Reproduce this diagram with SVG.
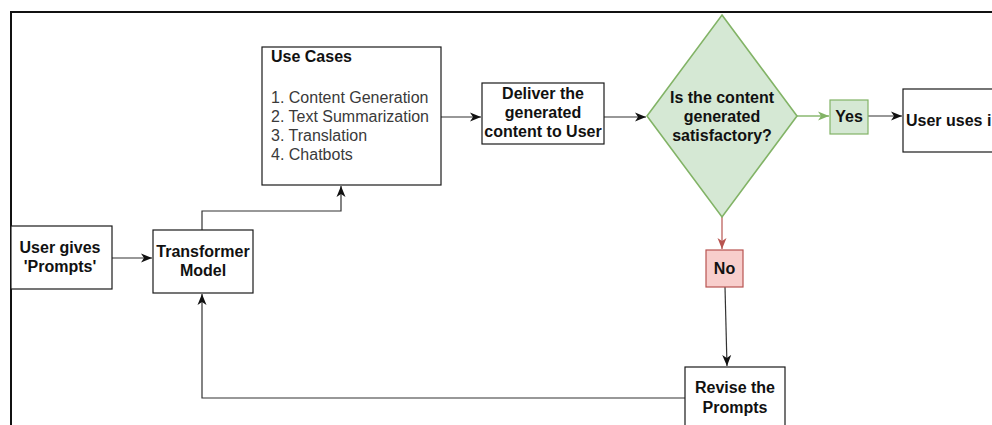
<svg xmlns="http://www.w3.org/2000/svg" width="992" height="425" viewBox="0 0 992 425">
  <defs>
    <style>
      .box { fill: #ffffff; stroke: #1a1a1a; stroke-width: 1.2; }
      .green { fill: #d5e8d4; stroke: #82b366; stroke-width: 1.6; }
      .red { fill: #f8cecc; stroke: #b85450; stroke-width: 1.2; }
      .lbl { font-family: "Liberation Sans", Arial, sans-serif; font-size: 16px; font-weight: bold; fill: #111; text-anchor: middle; }
      .list { font-family: "Liberation Sans", Arial, sans-serif; font-size: 16px; fill: #3a3a3a; }
      .edge { fill: none; stroke: #333; stroke-width: 1.2; }
      .edge-g { fill: none; stroke: #82b366; stroke-width: 1.4; }
      .edge-r { fill: none; stroke: #b85450; stroke-width: 1.2; }
    </style>
    <marker id="arr" markerUnits="userSpaceOnUse" markerWidth="12" markerHeight="12" viewBox="0 0 12 12" refX="11" refY="6" orient="auto">
      <path d="M0,1.5 L11,6 L0,10.5 L3,6 Z" fill="#111"/>
    </marker>
    <marker id="arrG" markerUnits="userSpaceOnUse" markerWidth="12" markerHeight="12" viewBox="0 0 12 12" refX="11" refY="6" orient="auto">
      <path d="M0,1.5 L11,6 L0,10.5 L3,6 Z" fill="#82b366"/>
    </marker>
    <marker id="arrR" markerUnits="userSpaceOnUse" markerWidth="12" markerHeight="12" viewBox="0 0 12 12" refX="11" refY="6" orient="auto">
      <path d="M0,1.5 L11,6 L0,10.5 L3,6 Z" fill="#b85450"/>
    </marker>
  </defs>

  <rect width="992" height="425" fill="#ffffff"/>

  <!-- outer frame (open to the right and bottom) -->
  <path d="M11,425 V12 H992" fill="none" stroke="#111" stroke-width="2"/>

  <!-- connectors -->
  <g id="connectors">
    <path class="edge" d="M112,258 H152" marker-end="url(#arr)"/>
    <path class="edge" d="M202,230 V211 H341 V186" marker-end="url(#arr)"/>
    <path class="edge" d="M441,117 H481" marker-end="url(#arr)"/>
    <path class="edge" d="M604,117 H646" marker-end="url(#arr)"/>
    <path class="edge-g" d="M797,116 H829" marker-end="url(#arrG)"/>
    <path class="edge" d="M868,116 H902" marker-end="url(#arr)"/>
    <path class="edge-r" d="M722,217 V249" marker-end="url(#arrR)"/>
    <path class="edge" d="M725,287 L727,366" marker-end="url(#arr)"/>
    <path class="edge" d="M685,398 H202 V294" marker-end="url(#arr)"/>
  </g>

  <g id="user-prompts">
    <rect class="box" x="11" y="226" width="101" height="63"/>
    <text class="lbl" x="60" y="253">User gives</text>
    <text class="lbl" x="60" y="272">'Prompts'</text>
  </g>

  <g id="transformer">
    <rect class="box" x="153" y="230" width="100" height="63"/>
    <text class="lbl" x="203" y="257">Transformer</text>
    <text class="lbl" x="203" y="276">Model</text>
  </g>

  <g id="use-cases">
    <rect class="box" x="262" y="47" width="179" height="138"/>
    <text class="lbl" x="271" y="62" style="text-anchor:start">Use Cases</text>
    <text class="list" x="271" y="103">1. Content Generation</text>
    <text class="list" x="271" y="122">2. Text Summarization</text>
    <text class="list" x="271" y="141">3. Translation</text>
    <text class="list" x="271" y="160">4. Chatbots</text>
  </g>

  <g id="deliver">
    <rect class="box" x="482" y="83" width="122" height="61"/>
    <text class="lbl" x="543" y="99">Deliver the</text>
    <text class="lbl" x="543" y="118">generated</text>
    <text class="lbl" x="543" y="137">content to User</text>
  </g>

  <g id="decision">
    <polygon class="green" points="722,15 797,116 722,217 647,116"/>
    <text class="lbl" x="722" y="103">Is the content</text>
    <text class="lbl" x="722" y="122">generated</text>
    <text class="lbl" x="722" y="141">satisfactory?</text>
  </g>

  <g id="yes">
    <rect class="green" x="830" y="100" width="38" height="34" style="stroke-width:1.2"/>
    <text class="lbl" x="849" y="122">Yes</text>
  </g>

  <g id="user-uses">
    <rect class="box" x="903" y="89" width="110" height="63"/>
    <text class="lbl" x="906" y="126" style="text-anchor:start">User uses i</text>
  </g>

  <g id="no">
    <rect class="red" x="706" y="250" width="37" height="37"/>
    <text class="lbl" x="724.5" y="274">No</text>
  </g>

  <g id="revise">
    <rect class="box" x="685" y="367" width="100" height="70"/>
    <text class="lbl" x="735" y="393">Revise the</text>
    <text class="lbl" x="735" y="413">Prompts</text>
  </g>
</svg>
